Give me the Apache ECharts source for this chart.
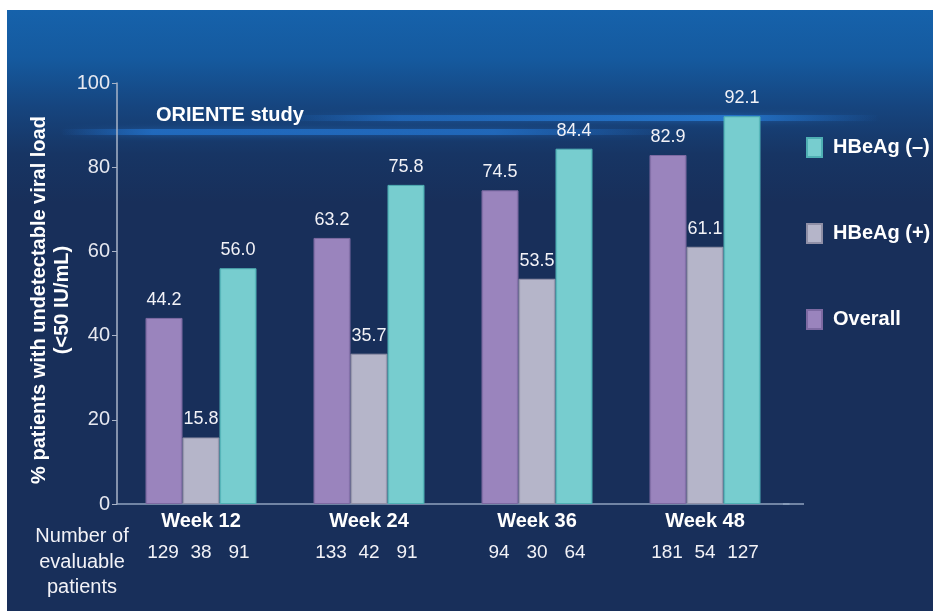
<!DOCTYPE html>
<html><head><meta charset="utf-8">
<script src="https://cdn.jsdelivr.net/npm/echarts@6/dist/echarts.min.js"></script>
<style>html,body{margin:0;padding:0;background:#fff}#c{width:933px;height:611px}</style>
</head><body><div id="c"></div>
<script>
const categories = ['Week 12', 'Week 24', 'Week 36', 'Week 48'];
const overall = [44.2, 63.2, 74.5, 82.9];
const hbeagPos = [15.8, 35.7, 53.5, 61.1];
const hbeagNeg = [56.0, 75.8, 84.4, 92.1];
const nOverall = [129, 133, 94, 181];
const nPos = [38, 42, 30, 54];
const nNeg = [91, 91, 64, 127];
const yTicks = [0, 20, 40, 60, 80, 100];

const FONT = '"Liberation Sans", Arial, sans-serif';
const chart = echarts.init(document.getElementById('c'));

function barSeries(name, data, color, border) {
  return {
    name, type: 'bar', data, barWidth: 37, barGap: '0%',
    itemStyle: {
      color: new echarts.graphic.LinearGradient(0, 0, 1, 0, [
        {offset: 0, color: border}, {offset: 0.06, color: color},
        {offset: 0.94, color: color}, {offset: 1, color: border}]),
      borderColor: border, borderWidth: 1
    },
    label: {show: true, position: 'top', distance: 9, color: '#f2f2f7',
      fontSize: 18, fontFamily: FONT, formatter: p => p.value.toFixed(1)}
  };
}

chart.setOption({
  animation: false,
  backgroundColor: '#ffffff',
  grid: {left: 117, right: 144, top: 83, bottom: 107, containLabel: false},
  legend: {
    orient: 'vertical', left: 801, top: 132, itemGap: 65,
    itemWidth: 15, itemHeight: 19, icon: 'rect',
    data: ['HBeAg (–)', 'HBeAg (+)', 'Overall'],
    textStyle: {color: '#ffffff', fontSize: 20, fontWeight: 'bold', fontFamily: FONT, padding: [0, 0, 0, 6]}
  },
  xAxis: {
    type: 'category', data: categories,
    axisLine: {lineStyle: {color: '#8fa3bf', width: 1.5}},
    axisTick: {show: false},
    axisLabel: {
      margin: 5, interval: 0,
      formatter: (v, i) => '{w|' + v + '}\n{n|' + nOverall[i] + '}{n|' + nPos[i] + '}{n|' + nNeg[i] + '}',
      rich: {
        w: {color: '#ffffff', fontSize: 20, fontWeight: 'bold', fontFamily: FONT, lineHeight: 24},
        n: {color: '#f2f2f7', fontSize: 19, fontFamily: FONT, width: 38, align: 'center', lineHeight: 40}
      }
    }
  },
  yAxis: {
    type: 'value', min: 0, max: 100, interval: 20,
    axisLine: {show: true, lineStyle: {color: '#a9b4c8', width: 1.5}},
    axisTick: {show: true, length: 5, lineStyle: {color: '#a9b4c8'}},
    splitLine: {show: false},
    axisLabel: {color: '#e6e8f0', fontSize: 20, fontFamily: FONT, margin: 7,
      formatter: v => yTicks.includes(v) ? String(v) : ''}
  },
  graphic: [
    {type: 'rect', z: -20, shape: {x: 7, y: 10, width: 926, height: 601},
      style: {fill: new echarts.graphic.LinearGradient(0, 0, 0, 1, [
        {offset: 0, color: '#1662ab'}, {offset: 0.08, color: '#155a9f'},
        {offset: 0.16, color: '#16457f'}, {offset: 0.24, color: '#173564'},
        {offset: 0.32, color: '#182f5a'}, {offset: 1, color: '#182f5a'}])}},
    {type: 'rect', z: -10, shape: {x: 60, y: 129, width: 620, height: 6},
      style: {fill: new echarts.graphic.LinearGradient(0, 0, 1, 0, [
        {offset: 0, color: 'rgba(30,110,200,0)'}, {offset: 0.15, color: 'rgba(35,115,205,0.75)'},
        {offset: 0.7, color: 'rgba(35,115,205,0.7)'}, {offset: 1, color: 'rgba(30,110,200,0)'}]),
        shadowBlur: 6, shadowColor: 'rgba(40,120,210,0.6)'}},
    {type: 'rect', z: -10, shape: {x: 280, y: 115, width: 600, height: 6},
      style: {fill: new echarts.graphic.LinearGradient(0, 0, 1, 0, [
        {offset: 0, color: 'rgba(30,110,200,0)'}, {offset: 0.2, color: 'rgba(35,115,205,0.6)'},
        {offset: 0.75, color: 'rgba(40,125,215,0.8)'}, {offset: 1, color: 'rgba(30,110,200,0)'}]),
        shadowBlur: 6, shadowColor: 'rgba(40,120,210,0.6)'}},
    {type: 'line', z: 5, shape: {x1: 783, y1: 504, x2: 804, y2: 504},
      style: {stroke: '#8fa3bf', lineWidth: 1.5}},
    {type: 'text', z: 5, x: 156, y: 115,
      style: {text: 'ORIENTE study', fill: '#ffffff', font: 'bold 20px ' + FONT, verticalAlign: 'middle'}},
    {type: 'text', z: 5, x: 51, y: 300, rotation: Math.PI / 2,
      style: {text: '% patients with undetectable viral load\n(<50 IU/mL)', fill: '#ffffff',
        font: 'bold 20px ' + FONT, align: 'center', verticalAlign: 'middle', lineHeight: 23}},
    {type: 'text', z: 5, x: 82, y: 562,
      style: {text: 'Number of\nevaluable\npatients', fill: '#f2f2f7',
        font: '20px ' + FONT, align: 'center', verticalAlign: 'middle', lineHeight: 25.5}}
  ],
  series: [
    barSeries('Overall', overall, '#9a84bd', '#7d6aa2'),
    barSeries('HBeAg (+)', hbeagPos, '#b5b5c9', '#8f8fa6'),
    barSeries('HBeAg (–)', hbeagNeg, '#77cdcf', '#4fb0b4')
  ]
});
</script></body></html>
